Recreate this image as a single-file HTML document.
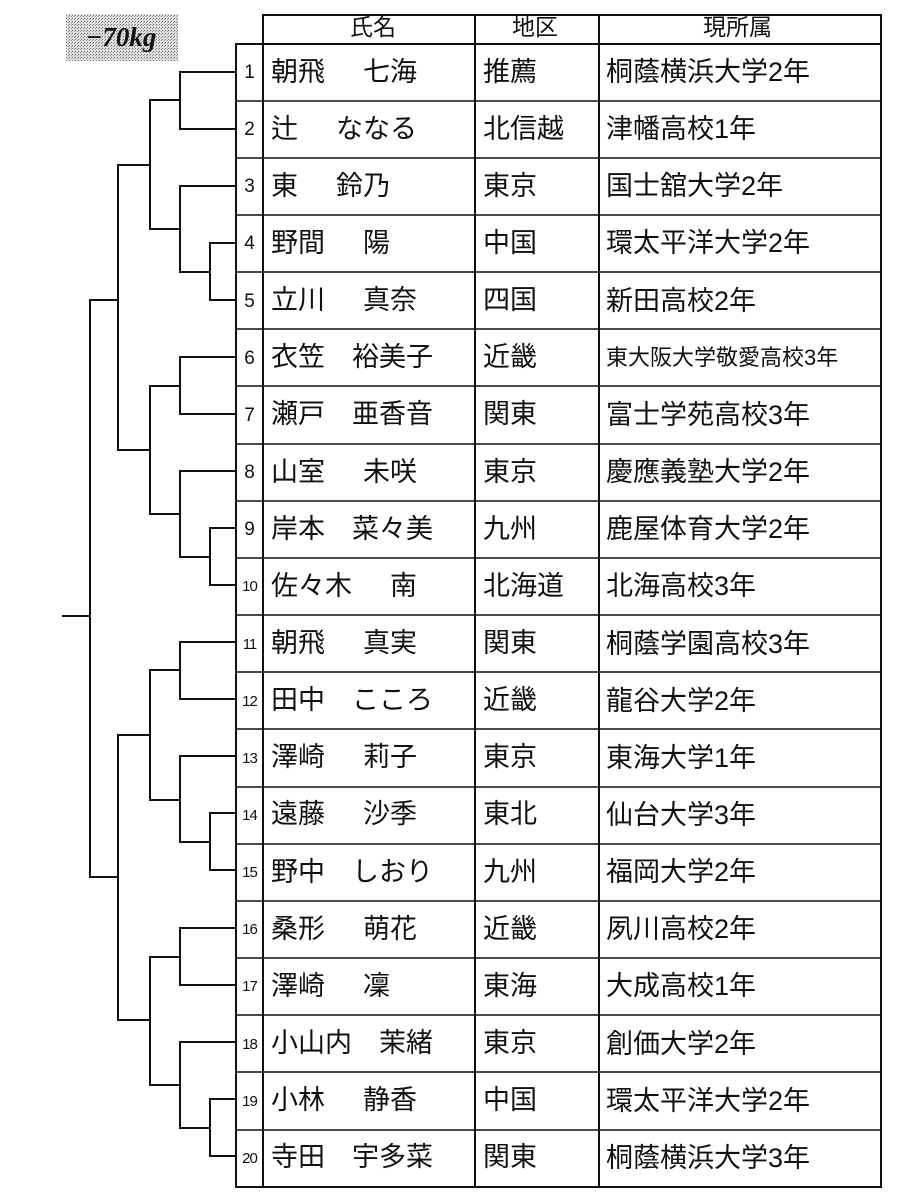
<!DOCTYPE html>
<html><head><meta charset="utf-8"><style>
body{margin:0;width:901px;height:1200px;background:#fff;position:relative;overflow:hidden;font-family:"Liberation Sans","Noto Sans CJK JP",sans-serif;color:#111}
.t{position:absolute;white-space:nowrap;line-height:1}
</style></head><body>
<svg width="901" height="1200" style="position:absolute;left:0;top:0">
<defs><pattern id="dots" width="3" height="3" patternUnits="userSpaceOnUse"><rect width="3" height="3" fill="#ddd"/><rect width="1" height="1" fill="#777"/><rect x="2" y="1" width="1" height="1" fill="#999"/></pattern></defs>
<rect x="66" y="14" width="112" height="47" fill="url(#dots)"/>
<g stroke="#111" stroke-width="2" fill="none">
<rect x="236" y="44" width="645" height="1143"/>
<rect x="263" y="15" width="618" height="29"/>
<line x1="263" y1="15" x2="263" y2="1187"/>
<line x1="475" y1="15" x2="475" y2="1187"/>
<line x1="599" y1="15" x2="599" y2="1187"/>
<path d="M236 72H180V129H236"/>
<path d="M236 243H210V300H236"/>
<path d="M236 186H180V272H210"/>
<path d="M180 100H150V229H180"/>
<path d="M236 357H180V414H236"/>
<path d="M236 528H210V585H236"/>
<path d="M236 471H180V557H210"/>
<path d="M180 386H150V514H180"/>
<path d="M150 165H118V450H150"/>
<path d="M236 642H180V699H236"/>
<path d="M236 813H210V870H236"/>
<path d="M236 756H180V842H210"/>
<path d="M180 670H150V800H180"/>
<path d="M236 928H180V985H236"/>
<path d="M236 1099H210V1156H236"/>
<path d="M236 1042H180V1128H210"/>
<path d="M180 957H150V1085H180"/>
<path d="M150 735H118V1020H150"/>
<path d="M118 300H90V877H118"/>
<path d="M62 616H90"/>
</g>
<g stroke="#111" stroke-width="1.6">
<line x1="236" y1="101" x2="881" y2="101"/><line x1="236" y1="158" x2="881" y2="158"/><line x1="236" y1="215" x2="881" y2="215"/><line x1="236" y1="272" x2="881" y2="272"/><line x1="236" y1="329" x2="881" y2="329"/><line x1="236" y1="386" x2="881" y2="386"/><line x1="236" y1="444" x2="881" y2="444"/><line x1="236" y1="501" x2="881" y2="501"/><line x1="236" y1="558" x2="881" y2="558"/><line x1="236" y1="615" x2="881" y2="615"/><line x1="236" y1="672" x2="881" y2="672"/><line x1="236" y1="729" x2="881" y2="729"/><line x1="236" y1="787" x2="881" y2="787"/><line x1="236" y1="844" x2="881" y2="844"/><line x1="236" y1="901" x2="881" y2="901"/><line x1="236" y1="958" x2="881" y2="958"/><line x1="236" y1="1015" x2="881" y2="1015"/><line x1="236" y1="1072" x2="881" y2="1072"/><line x1="236" y1="1130" x2="881" y2="1130"/>
</g>
</svg>
<div class="t" style="left:86px;top:24px;font-size:27px;font-style:italic;font-weight:bold;font-family:'Liberation Serif',serif">−70kg</div>
<div class="t" style="left:350px;top:16px;font-size:23px">氏名</div>
<div class="t" style="left:512px;top:16px;font-size:23px">地区</div>
<div class="t" style="left:703px;top:16px;font-size:23px">現所属</div>
<div id="body"></div>
<script>
const d=[["朝飛　七海","推薦","桐蔭横浜大学2年"],["辻　ななる","北信越","津幡高校1年"],["東　鈴乃","東京","国士舘大学2年"],["野間　陽","中国","環太平洋大学2年"],["立川　真奈","四国","新田高校2年"],["衣笠　裕美子","近畿","東大阪大学敬愛高校3年"],["瀬戸　亜香音","関東","富士学苑高校3年"],["山室　未咲","東京","慶應義塾大学2年"],["岸本　菜々美","九州","鹿屋体育大学2年"],["佐々木　南","北海道","北海高校3年"],["朝飛　真実","関東","桐蔭学園高校3年"],["田中　こころ","近畿","龍谷大学2年"],["澤崎　莉子","東京","東海大学1年"],["遠藤　沙季","東北","仙台大学3年"],["野中　しおり","九州","福岡大学2年"],["桑形　萌花","近畿","夙川高校2年"],["澤崎　凜","東海","大成高校1年"],["小山内　茉緒","東京","創価大学2年"],["小林　静香","中国","環太平洋大学2年"],["寺田　宇多菜","関東","桐蔭横浜大学3年"]];
let h="";
d.forEach((r,i)=>{const y=44+i*57.15;const c=y+28.5;
const n=i+1;const nf=n>9?15:19;
h+=`<div class="t" style="left:236px;width:27px;text-align:center;top:${c-nf/2}px;font-size:${nf}px;letter-spacing:${n>9?-1:0}px">${n}</div>`;
h+=`<div class="t" style="left:271px;top:${c-14}px;font-size:27px">${r[0].replace("　",'<span style="display:inline-block;width:'+(r[0].length>5?27:38)+'px"></span>')}</div>`;
h+=`<div class="t" style="left:483px;top:${c-14}px;font-size:27px">${r[1]}</div>`;
const fs=r[2].length>9?22:27;
h+=`<div class="t" style="left:606px;top:${c-fs/2}px;font-size:${fs}px">${r[2]}</div>`;});
document.getElementById("body").innerHTML=h;
</script>
</body></html>
